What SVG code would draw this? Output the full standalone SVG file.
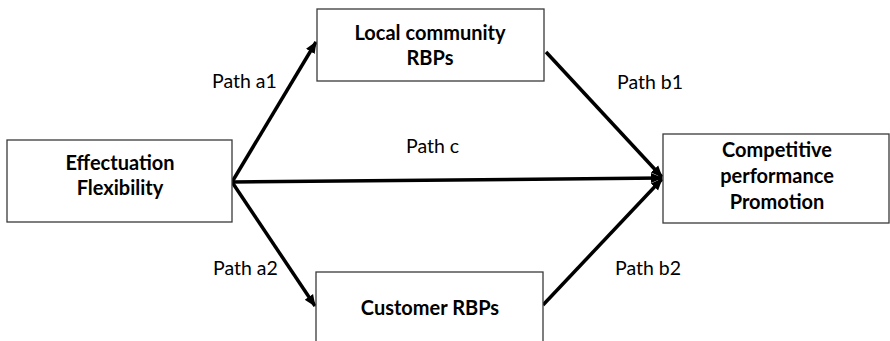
<svg xmlns="http://www.w3.org/2000/svg" width="890" height="341" viewBox="0 0 890 341">
<style>
.box{fill:#fff;stroke:#3a3a3a;stroke-width:1.3}
.bt{font-family:Lato,"Liberation Sans",sans-serif;font-weight:bold;font-size:20px;fill:#000;text-anchor:middle}
.lt{font-family:Lato,"Liberation Sans",sans-serif;font-size:19.5px;fill:#000}
.ln{stroke:#000;stroke-width:3.5;fill:none;marker-end:url(#ah)}
</style>
<defs>
<marker id="ah" markerUnits="userSpaceOnUse" markerWidth="12" markerHeight="12" viewBox="0 0 12 12" refX="11" refY="6" orient="auto">
<path d="M0,1 L12,6 L0,11 Z" fill="#000"/>
</marker>
</defs>
<rect width="890" height="341" fill="#fff"/>
<g id="connectors">
<line class="ln" x1="232" y1="182" x2="316" y2="42"/>
<line class="ln" x1="232" y1="182" x2="315" y2="306"/>
<line class="ln" x1="232" y1="182" x2="662" y2="178"/>
<line class="ln" x1="546" y1="52" x2="662" y2="177"/>
<line class="ln" x1="543" y1="305" x2="662" y2="179"/>
</g>
<g id="effectuation">
<rect class="box" x="7" y="140" width="225" height="82"/>
<text class="bt" x="120" y="170">Effectuation</text>
<text class="bt" x="120" y="195">Flexibility</text>
</g>
<g id="local">
<rect class="box" x="317" y="9" width="227" height="72"/>
<text class="bt" x="430" y="40">Local community</text>
<text class="bt" x="430" y="65">RBPs</text>
</g>
<g id="customer">
<rect class="box" x="316" y="272" width="227" height="80"/>
<text class="bt" x="430" y="315">Customer RBPs</text>
</g>
<g id="competitive">
<rect class="box" x="663" y="134" width="226" height="89"/>
<text class="bt" x="777" y="157">Competitive</text>
<text class="bt" x="777" y="183">performance</text>
<text class="bt" x="777" y="209">Promotion</text>
</g>
<g id="labels">
<text class="lt" x="212" y="88">Path a1</text>
<text class="lt" x="406" y="153">Path c</text>
<text class="lt" x="617" y="89">Path b1</text>
<text class="lt" x="213" y="275">Path a2</text>
<text class="lt" x="615" y="275">Path b2</text>
</g>
</svg>
